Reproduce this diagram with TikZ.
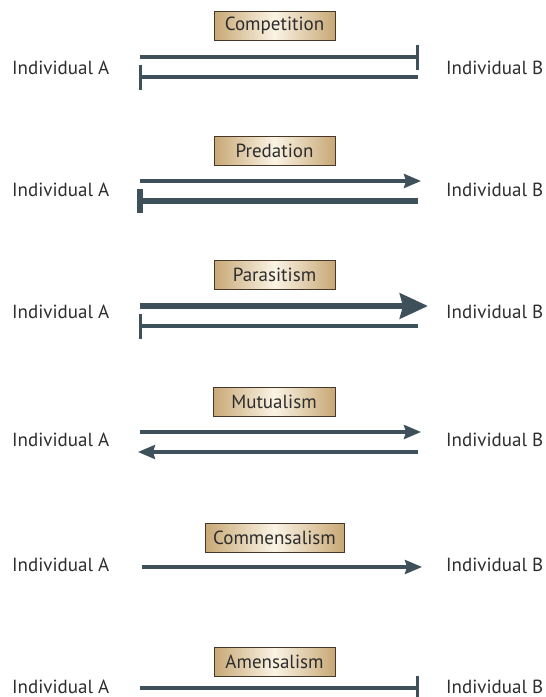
\documentclass[tikz,border=0pt]{standalone}
\usepackage{fontspec}
\setmainfont{PT Sans}
\usetikzlibrary{arrows.meta}
\definecolor{linec}{RGB}{62,80,90}
\definecolor{tanedge}{RGB}{200,168,118}
\definecolor{tanmid}{RGB}{250,243,228}
\definecolor{boxborder}{RGB}{70,55,40}
\definecolor{txt}{RGB}{45,45,45}
\tikzset{
  indiv/.style={font=\fontsize{19}{20}\selectfont, text=txt, inner sep=0pt, anchor=base west},
  kind/.style={draw=boxborder, line width=0.8pt, left color=tanedge, right color=tanedge, middle color=tanmid,
     font=\fontsize{19}{20}\selectfont, text=txt, minimum height=29pt, inner xsep=4pt, inner ysep=0pt},
  thin/.style={draw=linec, line width=3.2pt},
  thick/.style={draw=linec, line width=6pt},
  tharrow/.style={thin, -{Stealth[length=17pt, width=14pt, inset=2pt]}, shorten >=-1pt},
  bigarrow/.style={thick, -{Stealth[length=28pt, width=25pt, inset=3pt]}},
  barthin/.style={thin, -{Bar[width=25pt, line width=3.2pt]}},
  barthick/.style={thick, -{Bar[width=24pt, line width=6pt]}},
}
\begin{document}
\begin{tikzpicture}[x=1pt, y=-1pt]
\useasboundingbox (0,0) rectangle (546,697);
% Competition
\node[kind, minimum width=121pt] (k1) at (274.5,25.5) {Competition};
\node[indiv] (a1) at (12,74) {Individual A};
\node[indiv] (b1) at (446,74) {Individual B};
\coordinate (p1s) at (140,57); \coordinate (p1e) at (419,57);
\coordinate (q1s) at (418,77); \coordinate (q1e) at (139,77);
\draw[barthin] (p1s) -- (p1e);
\draw[barthin] (q1s) -- (q1e);
% Predation
\node[kind, minimum width=121pt] (k2) at (274.5,150.5) {Predation};
\node[indiv] (a2) at (12,196) {Individual A};
\node[indiv] (b2) at (446,196) {Individual B};
\coordinate (p2s) at (140,181); \coordinate (p2e) at (420,181);
\coordinate (q2s) at (418,201); \coordinate (q2e) at (137,201);
\draw[tharrow] (p2s) -- (p2e);
\draw[barthick] (q2s) -- (q2e);
% Parasitism
\node[kind, minimum width=121pt] (k3) at (274.5,275) {Parasitism};
\node[indiv] (a3) at (12,318) {Individual A};
\node[indiv] (b3) at (446,318) {Individual B};
\coordinate (p3s) at (140,306); \coordinate (p3e) at (428,306);
\coordinate (q3s) at (418,326); \coordinate (q3e) at (139,326);
\draw[bigarrow] (p3s) -- (p3e);
\draw[barthin] (q3s) -- (q3e);
% Mutualism
\node[kind, minimum width=122pt] (k4) at (274,402) {Mutualism};
\node[indiv] (a4) at (12,446) {Individual A};
\node[indiv] (b4) at (446,446) {Individual B};
\coordinate (p4s) at (140,432); \coordinate (p4e) at (420,432);
\coordinate (q4s) at (418,452); \coordinate (q4e) at (139,452);
\draw[tharrow] (p4s) -- (p4e);
\draw[tharrow] (q4s) -- (q4e);
% Commensalism
\node[kind, minimum width=139pt] (k5) at (274.5,538) {Commensalism};
\node[indiv] (a5) at (12,571) {Individual A};
\node[indiv] (b5) at (446,571) {Individual B};
\coordinate (p5s) at (142,567); \coordinate (p5e) at (421,567);
\draw[tharrow] (p5s) -- (p5e);
% Amensalism
\node[kind, minimum width=121pt] (k6) at (274.5,661.5) {Amensalism};
\node[indiv] (a6) at (12,693) {Individual A};
\node[indiv] (b6) at (446,693) {Individual B};
\coordinate (p6s) at (140,688); \coordinate (p6e) at (419,688);
\draw[barthin] (p6s) -- (p6e);
\end{tikzpicture}
\end{document}
